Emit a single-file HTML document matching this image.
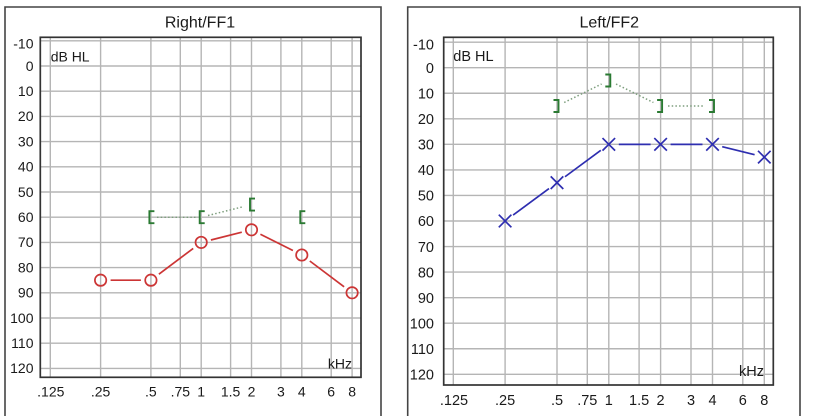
<!DOCTYPE html>
<html><head><meta charset="utf-8"><style>
html,body{margin:0;padding:0;background:#fff;width:817px;height:416px;overflow:hidden;}
svg{display:block;}
text{font-family:"Liberation Sans",Arial,sans-serif;fill:#1a1a1a;}
</style></head><body>
<svg width="817" height="416" viewBox="0 0 817 416" xmlns="http://www.w3.org/2000/svg">
<rect x="0" y="0" width="817" height="416" fill="#fff"/>

<!-- ============ LEFT CHART (Right/FF1) ============ -->
<path d="M5 416 V7 H381 V416" fill="none" stroke="#444" stroke-width="1.6"/>
<text x="200" y="27.3" font-size="16" text-anchor="middle">Right/FF1</text>
<g stroke="#b5b5b5" stroke-width="1.4">
  <line x1="40.3" x2="361" y1="40.8" y2="40.8"/>
  <line x1="40.3" x2="361" y1="66" y2="66"/>
  <line x1="40.3" x2="361" y1="91.2" y2="91.2"/>
  <line x1="40.3" x2="361" y1="116.4" y2="116.4"/>
  <line x1="40.3" x2="361" y1="141.6" y2="141.6"/>
  <line x1="40.3" x2="361" y1="166.8" y2="166.8"/>
  <line x1="40.3" x2="361" y1="192" y2="192"/>
  <line x1="40.3" x2="361" y1="217.2" y2="217.2"/>
  <line x1="40.3" x2="361" y1="242.4" y2="242.4"/>
  <line x1="40.3" x2="361" y1="267.6" y2="267.6"/>
  <line x1="40.3" x2="361" y1="292.8" y2="292.8"/>
  <line x1="40.3" x2="361" y1="318" y2="318"/>
  <line x1="40.3" x2="361" y1="343.2" y2="343.2"/>
  <line x1="40.3" x2="361" y1="368.4" y2="368.4"/>
  <line y1="37.3" y2="377.3" x1="50.3" x2="50.3"/>
  <line y1="37.3" y2="377.3" x1="100.6" x2="100.6"/>
  <line y1="37.3" y2="377.3" x1="150.9" x2="150.9"/>
  <line y1="37.3" y2="377.3" x1="180.3" x2="180.3"/>
  <line y1="37.3" y2="377.3" x1="201.2" x2="201.2"/>
  <line y1="37.3" y2="377.3" x1="230.6" x2="230.6"/>
  <line y1="37.3" y2="377.3" x1="251.5" x2="251.5"/>
  <line y1="37.3" y2="377.3" x1="280.9" x2="280.9"/>
  <line y1="37.3" y2="377.3" x1="301.8" x2="301.8"/>
  <line y1="37.3" y2="377.3" x1="331.2" x2="331.2"/>
  <line y1="37.3" y2="377.3" x1="352.1" x2="352.1"/>
</g>
<rect x="40.3" y="37.3" width="320.7" height="340" fill="none" stroke="#333" stroke-width="1.7"/>
<g font-size="14" text-anchor="end">
  <text x="33.5" y="48.3">-10</text>
  <text x="33.5" y="70.8">0</text>
  <text x="33.5" y="96">10</text>
  <text x="33.5" y="121.2">20</text>
  <text x="33.5" y="146.4">30</text>
  <text x="33.5" y="171.6">40</text>
  <text x="33.5" y="196.8">50</text>
  <text x="33.5" y="222">60</text>
  <text x="33.5" y="247.2">70</text>
  <text x="33.5" y="272.4">80</text>
  <text x="33.5" y="297.6">90</text>
  <text x="33.5" y="322.8">100</text>
  <text x="33.5" y="348">110</text>
  <text x="33.5" y="373.2">120</text>
</g>
<g font-size="14" text-anchor="middle">
  <text x="50.8" y="396.7">.125</text>
  <text x="100.6" y="396.7">.25</text>
  <text x="150.9" y="396.7">.5</text>
  <text x="180.3" y="396.7">.75</text>
  <text x="201.2" y="396.7">1</text>
  <text x="230.6" y="396.7">1.5</text>
  <text x="251.5" y="396.7">2</text>
  <text x="280.9" y="396.7">3</text>
  <text x="301.8" y="396.7">4</text>
  <text x="331.2" y="396.7">6</text>
  <text x="352.1" y="396.7">8</text>
</g>
<text x="50.7" y="61.7" font-size="14">dB HL</text>
<text x="352" y="368.3" font-size="14" text-anchor="end">kHz</text>

<!-- green masking brackets (right ear) -->
<g stroke="#7d9e7d" stroke-width="1.5" stroke-dasharray="1.5 2.2" fill="none">
  <line x1="157" y1="217.2" x2="196" y2="217.2"/>
  <line x1="208" y1="215.5" x2="242.8" y2="206.8"/>
</g>
<g stroke="#2a7a32" stroke-width="1.9" fill="none">
  <path d="M154.4 211.2 H149.4 V223.2 H154.4"/>
  <path d="M204.7 211.2 H199.7 V223.2 H204.7"/>
  <path d="M255 198.6 H250 V210.6 H255"/>
  <path d="M305.3 211.2 H300.3 V223.2 H305.3"/>
</g>
<!-- red AC line -->
<g stroke="#cc3535" stroke-width="1.7" fill="none">
  <line x1="110.6" y1="280.2" x2="140.9" y2="280.2"/>
  <line x1="158.9" y1="274.2" x2="193.2" y2="248.4"/>
  <line x1="210.9" y1="240.0" x2="241.8" y2="232.2"/>
  <line x1="260.4" y1="234.3" x2="292.9" y2="250.5"/>
  <line x1="309.8" y1="261.0" x2="344.1" y2="286.8"/>
  <circle cx="100.6" cy="280.2" r="5.7"/>
  <circle cx="150.9" cy="280.2" r="5.7"/>
  <circle cx="201.2" cy="242.4" r="5.7"/>
  <circle cx="251.5" cy="229.8" r="5.7"/>
  <circle cx="301.8" cy="255" r="5.7"/>
  <circle cx="352.1" cy="292.8" r="5.7"/>
</g>

<!-- ============ RIGHT CHART (Left/FF2) ============ -->
<path d="M407.7 416 V7 H800 V416" fill="none" stroke="#444" stroke-width="1.6"/>
<text x="609.3" y="27.3" font-size="16" text-anchor="middle">Left/FF2</text>
<g stroke="#b5b5b5" stroke-width="1.4">
  <line x1="443.7" x2="773.3" y1="42.15" y2="42.15"/>
  <line x1="443.7" x2="773.3" y1="67.7" y2="67.7"/>
  <line x1="443.7" x2="773.3" y1="93.25" y2="93.25"/>
  <line x1="443.7" x2="773.3" y1="118.8" y2="118.8"/>
  <line x1="443.7" x2="773.3" y1="144.35" y2="144.35"/>
  <line x1="443.7" x2="773.3" y1="169.9" y2="169.9"/>
  <line x1="443.7" x2="773.3" y1="195.45" y2="195.45"/>
  <line x1="443.7" x2="773.3" y1="221" y2="221"/>
  <line x1="443.7" x2="773.3" y1="246.55" y2="246.55"/>
  <line x1="443.7" x2="773.3" y1="272.1" y2="272.1"/>
  <line x1="443.7" x2="773.3" y1="297.65" y2="297.65"/>
  <line x1="443.7" x2="773.3" y1="323.2" y2="323.2"/>
  <line x1="443.7" x2="773.3" y1="348.75" y2="348.75"/>
  <line x1="443.7" x2="773.3" y1="374.3" y2="374.3"/>
  <line y1="37.3" y2="385" x1="453.3" x2="453.3"/>
  <line y1="37.3" y2="385" x1="505.1" x2="505.1"/>
  <line y1="37.3" y2="385" x1="557" x2="557"/>
  <line y1="37.3" y2="385" x1="587.3" x2="587.3"/>
  <line y1="37.3" y2="385" x1="608.8" x2="608.8"/>
  <line y1="37.3" y2="385" x1="639.1" x2="639.1"/>
  <line y1="37.3" y2="385" x1="660.6" x2="660.6"/>
  <line y1="37.3" y2="385" x1="691" x2="691"/>
  <line y1="37.3" y2="385" x1="712.5" x2="712.5"/>
  <line y1="37.3" y2="385" x1="742.8" x2="742.8"/>
  <line y1="37.3" y2="385" x1="764.3" x2="764.3"/>
</g>
<rect x="443.7" y="37.3" width="329.6" height="347.7" fill="none" stroke="#333" stroke-width="1.7"/>
<g font-size="14.5" text-anchor="end">
  <text x="434" y="49.3">-10</text>
  <text x="434" y="72.9">0</text>
  <text x="434" y="98.45">10</text>
  <text x="434" y="124">20</text>
  <text x="434" y="149.55">30</text>
  <text x="434" y="175.1">40</text>
  <text x="434" y="200.65">50</text>
  <text x="434" y="226.2">60</text>
  <text x="434" y="251.75">70</text>
  <text x="434" y="277.3">80</text>
  <text x="434" y="302.85">90</text>
  <text x="434" y="328.4">100</text>
  <text x="434" y="353.95">110</text>
  <text x="434" y="379.5">120</text>
</g>
<g font-size="14.5" text-anchor="middle">
  <text x="454" y="405">.125</text>
  <text x="505.1" y="405">.25</text>
  <text x="557" y="405">.5</text>
  <text x="587.3" y="405">.75</text>
  <text x="608.8" y="405">1</text>
  <text x="639.1" y="405">1.5</text>
  <text x="660.6" y="405">2</text>
  <text x="691" y="405">3</text>
  <text x="712.5" y="405">4</text>
  <text x="742.8" y="405">6</text>
  <text x="764.3" y="405">8</text>
</g>
<text x="453.3" y="61" font-size="14.5">dB HL</text>
<text x="764" y="376" font-size="14.5" text-anchor="end">kHz</text>

<!-- green masking brackets (left ear) -->
<g stroke="#7d9e7d" stroke-width="1.5" stroke-dasharray="1.5 2.2" fill="none">
  <line x1="564.2" y1="102.5" x2="601.6" y2="84.0"/>
  <line x1="616" y1="84.0" x2="653.4" y2="102.5"/>
  <line x1="668" y1="106" x2="704" y2="106"/>
</g>
<g stroke="#2a7a32" stroke-width="1.9" fill="none">
  <path d="M553.5 100 H558.5 V112 H553.5"/>
  <path d="M605.3 74.5 H610.3 V86.5 H605.3"/>
  <path d="M657.1 100 H662.1 V112 H657.1"/>
  <path d="M709 100 H714 V112 H709"/>
</g>
<!-- blue AC line -->
<g stroke="#2e2eb0" stroke-width="1.7" fill="none">
  <line x1="513.1" y1="215.1" x2="549.0" y2="188.6"/>
  <line x1="565.0" y1="176.75" x2="600.8" y2="150.3"/>
  <line x1="618.8" y1="144.35" x2="650.6" y2="144.35"/>
  <line x1="670.6" y1="144.35" x2="702.5" y2="144.35"/>
  <line x1="722.2" y1="146.7" x2="754.6" y2="154.7"/>
  <path d="M498.8 214.7 L511.4 227.3 M498.8 227.3 L511.4 214.7"/>
  <path d="M550.7 176.4 L563.3 189 M550.7 189 L563.3 176.4"/>
  <path d="M602.5 138.05 L615.1 150.65 M602.5 150.65 L615.1 138.05"/>
  <path d="M654.3 138.05 L666.9 150.65 M654.3 150.65 L666.9 138.05"/>
  <path d="M706.2 138.05 L718.8 150.65 M706.2 150.65 L718.8 138.05"/>
  <path d="M758 150.8 L770.6 163.4 M758 163.4 L770.6 150.8"/>
</g>
</svg>
</body></html>
